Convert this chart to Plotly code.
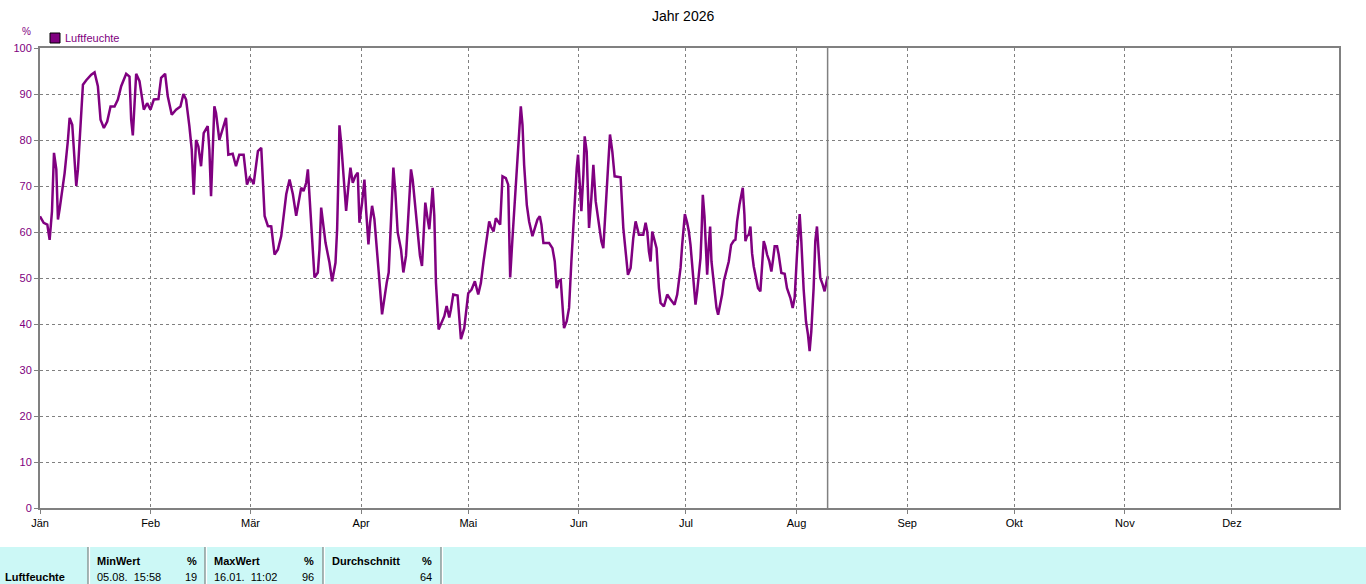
import pandas as pd
import plotly.graph_objects as go

# daily humidity readings (day of year offset from 1 Jan, value in %)
days = [
    0.0, 1.03, 2.05, 2.7, 3.36, 3.92, 4.57, 5.03, 5.5, 6.15, 6.9, 7.83, 8.3, 9.04, 9.7, 10.16,
    10.63, 11.1, 12.03, 12.96, 14.36, 15.29, 16.22, 16.97, 17.9, 18.83, 19.77, 20.89, 21.82,
    22.75, 24.15, 25.08, 25.55, 26.01, 26.48, 26.95, 27.88, 29.09, 30.02, 30.96, 31.89, 33.19,
    33.94, 35.06, 35.8, 36.92, 38.13, 39.35, 40.19, 40.93, 41.86, 42.52, 43.08, 43.73, 44.38,
    45.13, 45.87, 46.99, 47.46, 47.93, 48.86, 49.32, 50.26, 51.19, 52.12, 52.77, 53.99, 54.92,
    55.85, 57.06, 58.0,
    58.74, 59.49, 59.86, 60.42, 61.07, 62.0, 62.47, 62.94, 63.87, 64.8, 65.73, 66.67, 67.6,
    68.53, 69.0, 69.93, 70.86, 71.79, 72.54, 73.19, 73.85, 74.59, 75.06, 75.52, 76.46, 76.92,
    77.85, 78.32, 78.79, 79.25, 80.0, 81.12, 81.86, 82.8, 83.26, 83.73, 83.91, 84.38, 84.85,
    85.78, 86.43, 86.99, 87.64, 88.39, 89.04, 89.51, 90.26, 90.91, 91.37, 92.03, 92.49, 93.05,
    93.7, 94.36, 94.92, 95.85, 96.5, 97.16, 97.71, 98.37, 99.02, 99.58, 100.23, 101.16, 101.82,
    102.56, 103.31, 103.96, 104.43, 105.17, 105.83, 106.48, 107.04, 107.41, 107.97, 108.62,
    109.09, 109.56, 110.02, 110.49, 110.95, 111.7, 112.63, 113.29, 113.94, 114.68, 115.15,
    115.8, 117.01, 117.29, 117.95,
    118.88, 119.35, 120.0, 120.93, 121.86, 122.8, 123.54, 124.29, 124.94, 125.87, 126.34,
    127.09, 127.74, 128.39, 128.95, 129.6, 130.53, 131.19, 131.47, 131.75, 132.4, 133.05,
    133.61, 134.26, 134.73, 135.2, 135.66, 136.41, 137.06, 137.99, 138.65, 139.39, 140.05,
    140.51, 141.07, 142.66, 143.59, 144.24, 144.8, 145.27, 145.92, 146.39, 146.85, 147.6,
    148.25, 148.9, 149.65, 150.4, 150.77, 151.05, 151.7, 152.26, 152.63, 153.19, 153.85,
    154.5, 155.06, 155.71, 156.64, 157.3, 157.85, 158.79, 159.16, 159.72, 160.37, 161.02,
    162.7, 163.45, 164.1, 164.75, 165.5, 166.25, 166.9, 167.83, 169.04, 169.7, 170.16, 170.63,
    171.09, 171.56, 172.03, 172.77, 173.43, 173.89, 174.82, 175.76, 176.69, 177.81, 178.55,
    179.49, 179.95, 180.42, 180.7, 181.35, 181.82, 182.28, 182.75, 183.22, 183.68, 184.15,
    184.61, 185.08, 185.36, 185.73, 186.2, 186.48, 186.95, 187.41, 187.78, 188.16, 188.62,
    189.09, 189.56, 190.02, 190.68, 191.14, 191.61, 192.54, 193.0, 193.66, 194.4, 194.87,
    195.34, 196.0, 196.55, 196.92, 197.39, 197.67, 198.13, 198.6, 199.07, 199.53, 200.0,
    200.65, 201.21, 201.86, 202.33, 202.8, 203.26, 203.73, 204.38, 204.94, 205.41, 205.87,
    206.53, 206.99, 207.74, 208.67, 209.32, 210.26, 210.91, 211.47, 212.12, 212.59, 212.87,
    213.33, 213.99, 214.64, 215.2, 215.66, 216.13, 216.78, 217.25, 217.72, 218.18, 218.65,
    219.3, 219.86, 220.51, 220.79,
]
humidity = [
    63.4, 62, 61.6, 58.3, 64.5, 77.2, 73.6, 62.7, 65, 68.5, 72.8, 80, 84.8, 83.3, 76.4, 70,
    73.6, 80, 92, 93, 94.2, 94.7, 91.7, 84.4, 82.6, 84, 87.3, 87.3, 88.8,
    91.7, 94.4, 93.8, 84.4, 81, 89.5, 94.4, 92.8, 86.6, 88, 86.6, 88.8, 88.9,
    93.5, 94.4, 89.5, 85.5, 86.6, 87.3, 90, 88.8, 83, 77.9, 68.1, 80, 78.6,
    74.3, 81.5, 83, 77.9, 67.8, 87.3, 85.9, 80, 82.2, 84.8, 76.8, 77, 74.3,
    76.8, 76.8, 70.3,
    71.8, 71.1, 70.4, 73.3, 77.6, 78.3, 71.4, 63.5, 61.3, 61.2, 55.1, 56.2, 59.1,
    64.9, 68.2, 71.4, 68.2, 63.5, 66.7, 69.6, 68.9, 70.7, 73.6, 67.1, 55.5, 50.1,
    51.2, 56.2, 65.3, 62.8, 57.7, 53.3, 49.3, 53.3, 60.6, 75.8, 83.2, 79.4, 73.6,
    64.6, 70, 74, 70.7, 72.2, 72.9, 62, 66.4, 71.4, 64.9, 57.3, 62, 65.7,
    62.8, 55.5, 51.2, 42.1, 46.1, 49, 51.2, 62.8, 74, 68.6, 59.9, 56.2, 51.2,
    54.8, 64.9, 73.6, 71.4, 64.9, 59.1, 54.8, 52.6, 59.1, 66.4, 62.8,
    60.6, 64.9, 69.6, 63.5, 49, 38.8, 40.3, 41.7, 43.9, 41.4, 43.2,
    46.4, 46.2, 43.2, 36.7,
    39.1, 42.8, 46.7, 47.5, 49.3, 46.4, 48.9, 53.6, 57.2, 62.3, 61.2,
    60.1, 63, 62.3, 61.6, 72.1, 71.7, 70.3, 57.2, 50.1, 58.7, 66.7,
    73.2, 79.7, 87.3, 83.3, 74.6, 65.9, 62.3, 59.1, 60.9, 62.7, 63.4,
    61.6, 57.6, 57.6, 56.5, 53.6, 47.8, 49.3, 49.6, 44.2, 39.1, 40.6,
    43.5, 53.6, 65.2, 73.9, 76.8, 73.2, 64.5, 72.5, 80.8, 77.5, 60.9,
    67.4, 74.6, 66.7, 61.6, 58, 56.5, 67.4, 73.9, 81.2, 77.5, 72.1,
    71.9, 60.9, 56.5, 50.7, 52.2, 58.7, 62.3, 59.4, 59.4, 62, 60.1, 55.8,
    53.6, 60.1, 58.7, 56.5, 47.8, 44.6, 43.8, 46.4, 45.3, 44.2, 46.4,
    52.2, 57.2, 61.6, 63.9, 62, 60.1, 57.2, 52.5, 49.3, 44.2, 47.1,
    51.4, 54.3, 59.4, 68.1, 63.4, 58, 50.7, 57.2, 61.2, 53.6, 50,
    45.7, 43.5, 42, 44.2, 46.4, 49.3, 51.8, 53.6, 57.2, 58.1, 58.3,
    62.3, 65.9, 68.1, 69.6, 63.8, 58, 59.1, 59.4, 61.2, 55.4, 52.5,
    50, 47.8, 47.1, 52.9, 58, 56.9, 55.1, 53.6, 51.4, 54, 56.9,
    56.9, 55.1, 51.1, 50.9, 47.8, 45.7, 43.5, 45.7, 55.1, 61.6, 63.9,
    58, 47.5, 40.6, 37.7, 34.1, 38.4, 47.8, 58, 61.2, 56.5, 50,
    48.6, 47.1, 49.6, 50.4,
]

month_starts = ["2026-%02d-01" % m for m in range(1, 13)]
month_labels = ["Jän", "Feb", "Mär", "Apr", "Mai", "Jun", "Jul", "Aug", "Sep", "Okt", "Nov", "Dez"]
now_marker = "2026-08-09 16:48"

stat_headers = ["MinWert", "MaxWert", "Durchschnitt"]
stat_times = ["05.08.  15:58", "16.01.  11:02", ""]
stat_values = ["19", "96", "64"]

PURPLE = "#800080"
GRAY = "#808080"
FONT = "Liberation Sans"

W, H = 1366, 584
L, R, T, B = 40, 1339, 48, 508


def px(x, y):
    # pixel position -> paper coords of the plot area
    return (x - L) / (R - L), (B - y) / (B - T)


def label(text, xp, yp, anchor="left", size=11, color="black"):
    ax, ay = px(xp, yp)
    return dict(text=text, x=ax, y=ay, xref="paper", yref="paper", xanchor=anchor,
                yanchor="middle", showarrow=False, font=dict(size=size, color=color))


x = pd.Timestamp("2026-01-01") + pd.to_timedelta(days, unit="D")

fig = go.Figure()
fig.add_trace(go.Scatter(x=x, y=humidity, mode="lines",
                         line=dict(color=PURPLE, width=2.5), name="Luftfeuchte",
                         showlegend=False))

fig.update_layout(
    width=W, height=H,
    margin=dict(l=L, r=W - R, t=T, b=H - B),
    paper_bgcolor="white", plot_bgcolor="white",
    font=dict(family=FONT, size=11, color="black"),
    xaxis=dict(range=["2026-01-01", "2026-12-31"], tickvals=month_starts, ticktext=month_labels,
               showgrid=True, gridcolor=GRAY, griddash="3px,3px", gridwidth=1,
               showline=True, linecolor=GRAY, linewidth=2, mirror=True,
               ticks="outside", ticklen=4, tickcolor=GRAY, zeroline=False,
               tickfont=dict(color="black", size=11)),
    yaxis=dict(range=[0, 100], dtick=10, showgrid=True, gridcolor=GRAY,
               griddash="3px,3px", gridwidth=1,
               showline=True, linecolor=GRAY, linewidth=2, mirror=True,
               ticks="outside", ticklen=4, tickcolor=GRAY, zeroline=False,
               tickfont=dict(color=PURPLE, size=11)),
)

shapes = []
annotations = []

# current time marker
shapes.append(dict(type="line", xref="x", yref="paper", x0=now_marker, x1=now_marker,
                   y0=0, y1=1, line=dict(color=GRAY, width=1.5)))

# title, unit, legend
annotations.append(label("Jahr 2026", 683, 16, anchor="center", size=14))
annotations.append(label("%", 26, 32, anchor="center", size=10, color=PURPLE))
sx0, sy0 = px(50, 43)
sx1, sy1 = px(60, 33)
shapes.append(dict(type="rect", xref="paper", yref="paper", x0=sx0, y0=sy0, x1=sx1, y1=sy1,
                   fillcolor=PURPLE, line=dict(color="black", width=1)))
annotations.append(label("Luftfeuchte", 63, 38, color=PURPLE))

# stats table at the bottom
bx0, by0 = px(0, 547)
bx1, by1 = px(W, H)
shapes.append(dict(type="rect", xref="paper", yref="paper", x0=bx0, y0=by0, x1=bx1, y1=by1,
                   fillcolor="#CCF8F6", line=dict(width=0), layer="below"))
for sep in [88, 205, 323, 441]:
    for off, col in [(0, GRAY), (1.5, "white")]:
        sx, _ = px(sep + off, 0)
        shapes.append(dict(type="line", xref="paper", yref="paper", x0=sx, x1=sx, y0=by0,
                           y1=by1, line=dict(color=col, width=1.2)))

annotations.append(label("<b>Luftfeuchte</b>", 3, 577))
col_left = [95, 212, 330]
col_right = [199, 316, 434]
for i in range(3):
    annotations.append(label("<b>" + stat_headers[i] + "</b>", col_left[i], 561))
    annotations.append(label("<b>%</b>", col_right[i], 561, anchor="right"))
    if stat_times[i]:
        annotations.append(label(stat_times[i].replace("  ", "&nbsp; "), col_left[i], 577))
    annotations.append(label(stat_values[i], col_right[i], 577, anchor="right"))

fig.update_layout(shapes=shapes, annotations=annotations)

# page body has a default margin; drop it so the figure sits at the window's corner
fig.write_html("out.html", config={"displayModeBar": False},
               post_script="document.body.style.margin='0';")
